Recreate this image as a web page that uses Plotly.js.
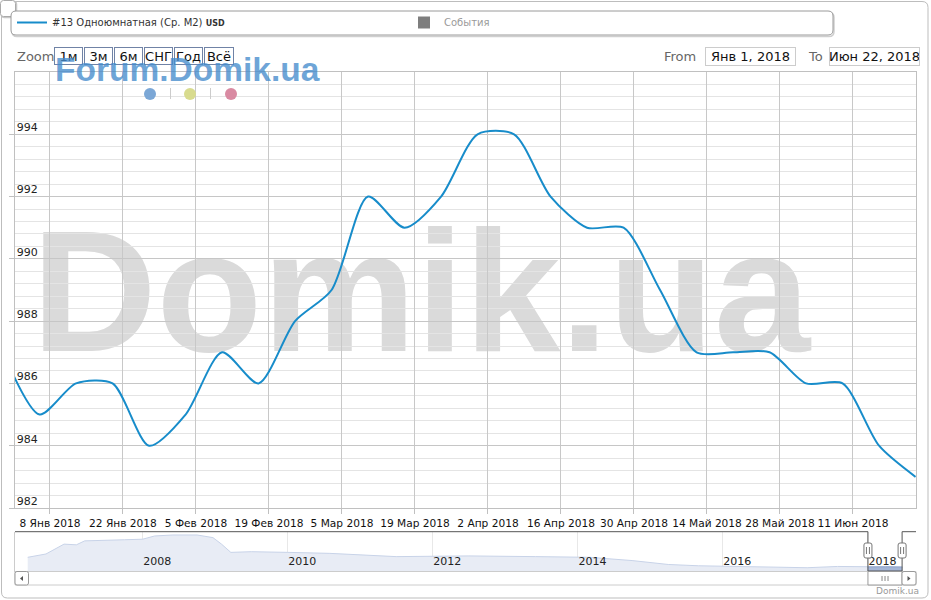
<!DOCTYPE html>
<html>
<head>
<meta charset="utf-8">
<script src="https://cdn.plot.ly/plotly-3.0.1.min.js"></script>
<style>html,body{margin:0;padding:0;background:#fff}#chart{width:931px;height:600px}</style>
</head>
<body>
<div id="chart"></div>
<script>
// ---------- data ----------
const seriesName = '#13 Одноюмнатная (Ср. М2) <span style="font-size:8px"><b>USD</b></span>';
const eventsName = 'События';
const weekDates = ['2017-12-30','2018-01-06','2018-01-13','2018-01-20','2018-01-27','2018-02-03','2018-02-10','2018-02-17','2018-02-24','2018-03-03','2018-03-10','2018-03-17','2018-03-24','2018-03-31','2018-04-07','2018-04-14','2018-04-21','2018-04-28','2018-05-05','2018-05-12','2018-05-19','2018-05-26','2018-06-02','2018-06-09','2018-06-16','2018-06-23'];
const weekValues = [987,985,986,986,984,985,987,986,988,989,992,991,992,994,994,992,991,991,989,987,987,987,986,986,984,983];
const historyDates = ['2006-06-01','2006-09-01','2006-12-01','2007-02-01','2007-03-15','2007-06-01','2007-10-01','2008-01-01','2008-03-01','2008-06-01','2008-10-01','2008-12-20','2009-02-01','2009-03-20','2009-07-01','2010-01-01','2010-08-01','2011-07-01','2012-01-01','2012-07-01','2013-06-01','2014-03-01','2014-10-01','2015-04-01','2015-09-01','2016-07-01','2017-03-01','2017-08-01'];
const historyValues = [1373,1506,1900,1872,2030,2057,2075,2097,2226,2266,2266,2160,1900,1570,1597,1570,1530,1400,1428,1428,1400,1373,1243,1086,1034,979,956,1007];
const xTickDates = ['2018-01-08','2018-01-22','2018-02-05','2018-02-19','2018-03-05','2018-03-19','2018-04-02','2018-04-16','2018-04-30','2018-05-14','2018-05-28','2018-06-11'];
const xTickLabels = ['8 Янв 2018','22 Янв 2018','5 Фев 2018','19 Фев 2018','5 Мар 2018','19 Мар 2018','2 Апр 2018','16 Апр 2018','30 Апр 2018','14 Май 2018','28 Май 2018','11 Июн 2018'];
const yTickValues = [982,984,986,988,990,992,994];
const zoomButtons = ['1м','3м','6м','СНГ','Год','Всё'];
const fromText = 'Янв 1, 2018';
const toText = 'Июн 22, 2018';
const selStart = '2018-01-01';
const selEnd = '2018-06-22';
const mainRange = ['2018-01-01 07:00','2018-06-23 02:00'];
const navRange = ['2006-03-29','2018-08-31'];

// ---------- helpers (pixel -> paper) ----------
const W = 931, H = 600;
const px = x => x / W;
const py = y => 1 - y / H;
function rrect(x0, y0, x1, y1, r) {
  const X = px, Y = py;
  return `M${X(x0+r)},${Y(y0)} L${X(x1-r)},${Y(y0)} Q${X(x1)},${Y(y0)} ${X(x1)},${Y(y0+r)} ` +
         `L${X(x1)},${Y(y1-r)} Q${X(x1)},${Y(y1)} ${X(x1-r)},${Y(y1)} L${X(x0+r)},${Y(y1)} ` +
         `Q${X(x0)},${Y(y1)} ${X(x0)},${Y(y1-r)} L${X(x0)},${Y(y0+r)} Q${X(x0)},${Y(y0)} ${X(x0+r)},${Y(y0)} Z`;
}

const FONT = 'DejaVu Sans';
const BLUE = '#178cca';

// navigator data
const navX = historyDates.concat(weekDates);
const navY = historyValues.concat(weekValues);
const navMin = Math.min(...navY), navMax = Math.max(...navY);
const navPad = 0.1 * (navMax - navMin);

const traces = [
  {x: weekDates, y: weekValues, name: seriesName, type: 'scatter', mode: 'lines',
   line: {color: BLUE, width: 2, shape: 'spline', smoothing: 0.75}, xaxis: 'x', yaxis: 'y', hoverinfo: 'skip'},
  {x: [null], y: [null], name: eventsName, type: 'scatter', mode: 'markers', visible: 'legendonly',
   marker: {symbol: 'square', size: 12, color: '#000'}, xaxis: 'x', yaxis: 'y'},
  {x: navX, y: navY, type: 'scatter', mode: 'lines', fill: 'tozeroy', fillcolor: '#e8ecf5',
   line: {color: '#c8d3e8', width: 1}, xaxis: 'x2', yaxis: 'y2', showlegend: false, hoverinfo: 'skip'},
  {x: weekDates, y: weekValues, type: 'scatter', mode: 'lines', fill: 'tozeroy', fillcolor: '#a5b6d7',
   line: {color: '#8ea3cc', width: 1}, xaxis: 'x2', yaxis: 'y2', showlegend: false, hoverinfo: 'skip'}
];

const shapes = [];
// outer border
shapes.push({type: 'path', xref: 'paper', yref: 'paper', path: rrect(1.5, 1.5, 928, 598, 6), line: {color: '#bdbdbd', width: 1}, layer: 'below'});
// top-left tab
shapes.push({type: 'path', xref: 'paper', yref: 'paper', path: rrect(1.5, 1.5, 16.5, 17.5, 3), line: {color: '#c8c8c8', width: 1.5}, fillcolor: '#fff'});
shapes.push({type: 'path', xref: 'paper', yref: 'paper', path: rrect(0.5, 0.5, 15.5, 16.5, 3), line: {color: '#aaa', width: 1}, fillcolor: '#fff'});
// legend box with shadow
shapes.push({type: 'path', xref: 'paper', yref: 'paper', path: rrect(12, 12.5, 834, 36.5, 5), line: {color: '#cfcfcf', width: 1.5}, fillcolor: 'rgba(0,0,0,0)'});
shapes.push({type: 'path', xref: 'paper', yref: 'paper', path: rrect(11, 11, 833, 35, 5), line: {color: '#9a9a9a', width: 1}, fillcolor: '#fff'});
// big watermark (below grid)
shapes.push({type: 'rect', xref: 'paper', yref: 'paper', x0: px(26), x1: px(816), y0: py(355), y1: py(195), layer: 'below',
  line: {width: 0}, fillcolor: 'rgba(0,0,0,0)',
  label: {text: '<b>Domik.ua</b>', textposition: 'middle center', padding: 0,
          font: {family: 'Liberation Sans', size: 173, color: '#dadada'}}});
// dots under Forum watermark
[[150, '#7ba7d6'], [190, '#d8db8e'], [231, '#d98aa2']].forEach(([cx, c]) => {
  shapes.push({type: 'circle', xref: 'paper', yref: 'paper', x0: px(cx - 6), x1: px(cx + 6), y0: py(100), y1: py(88), line: {width: 0}, fillcolor: c});
});
[170.5, 210.5].forEach(sx => shapes.push({type: 'line', xref: 'paper', yref: 'paper', x0: px(sx), x1: px(sx), y0: py(88), y1: py(99), line: {color: '#cccccc', width: 1}}));
// navigator outline
const navTop = py(531.7), navBot = py(571);
const outline = {color: '#555', width: 1};
shapes.push({type: 'line', xref: 'x2', yref: 'paper', x0: navRange[0], x1: selStart, y0: navTop, y1: navTop, line: outline});
shapes.push({type: 'line', xref: 'x2', yref: 'paper', x0: selStart, x1: selStart, y0: navTop, y1: navBot, line: outline});
shapes.push({type: 'line', xref: 'x2', yref: 'paper', x0: selStart, x1: selEnd, y0: navBot, y1: navBot, line: outline});
shapes.push({type: 'line', xref: 'x2', yref: 'paper', x0: selEnd, x1: selEnd, y0: navTop, y1: navBot, line: outline});
shapes.push({type: 'line', xref: 'x2', yref: 'paper', x0: selEnd, x1: navRange[1], y0: navTop, y1: navTop, line: outline});
// scrollbar track
shapes.push({type: 'rect', xref: 'paper', yref: 'paper', x0: px(15), x1: px(916), y0: py(585), y1: py(571.5), line: {color: '#cccccc', width: 1}, fillcolor: 'rgba(0,0,0,0)'});
// scrollbar thumb
shapes.push({type: 'rect', xref: 'x2', yref: 'paper', x0: selStart, x1: selEnd, y0: py(585), y1: py(571.5), line: {color: '#999', width: 1}, fillcolor: '#fff'});
const midMs = (new Date(selStart).getTime() + new Date(selEnd).getTime()) / 2;
const midDate = new Date(midMs).toISOString().slice(0, 10);
shapes.push({type: 'path', xref: 'x2', xsizemode: 'pixel', xanchor: midDate, yref: 'paper',
  path: `M-3,${py(576)} L-3,${py(581)} M0,${py(576)} L0,${py(581)} M3,${py(576)} L3,${py(581)}`, line: {color: '#888', width: 1}});
// scrollbar buttons
shapes.push({type: 'path', xref: 'paper', yref: 'paper', path: rrect(15, 571.5, 28.5, 585, 2), line: {color: '#999', width: 1}, fillcolor: '#fff'});
shapes.push({type: 'path', xref: 'paper', yref: 'paper', path: `M${px(23)},${py(576)} L${px(20)},${py(578.5)} L${px(23)},${py(581)} Z`, line: {width: 0}, fillcolor: '#555'});
shapes.push({type: 'path', xref: 'paper', yref: 'paper', path: rrect(902, 571.5, 916, 585, 2), line: {color: '#999', width: 1}, fillcolor: '#fff'});
shapes.push({type: 'path', xref: 'paper', yref: 'paper', path: `M${px(907.5)},${py(576)} L${px(910.5)},${py(578.5)} L${px(907.5)},${py(581)} Z`, line: {width: 0}, fillcolor: '#555'});
// navigator handles
[selStart, selEnd].forEach(d => {
  const t = py(543), b = py(558), r1 = py(545), r2 = py(556);
  shapes.push({type: 'path', xref: 'x2', xsizemode: 'pixel', xanchor: d, yref: 'paper',
    path: `M-2,${t} L2,${t} Q4,${t} 4,${r1} L4,${r2} Q4,${b} 2,${b} L-2,${b} Q-4,${b} -4,${r2} L-4,${r1} Q-4,${t} -2,${t} Z`,
    line: {color: '#777', width: 1}, fillcolor: '#fff'});
  shapes.push({type: 'path', xref: 'x2', xsizemode: 'pixel', xanchor: d, yref: 'paper',
    path: `M-1.5,${py(547)} L-1.5,${py(554)} M1.5,${py(547)} L1.5,${py(554)}`,
    line: {color: '#777', width: 1}});
});

const annotations = [];
annotations.push({text: 'Zoom', xref: 'paper', yref: 'paper', x: px(15), y: py(57), xanchor: 'left', yanchor: 'middle', showarrow: false, font: {size: 13, color: '#666'}});
zoomButtons.forEach((b, i) => {
  const w = i === zoomButtons.length - 1 ? 31 : 30;
  annotations.push({text: b, xref: 'paper', yref: 'paper', x: px(53 + 30 * i + w / 2), y: py(56.5), xanchor: 'center', yanchor: 'middle',
    showarrow: false, width: w - 3, height: 16, borderpad: 0, borderwidth: 1, bordercolor: '#7083a6', bgcolor: 'rgba(255,255,255,0)',
    font: {size: 13, color: '#111'}});
});
annotations.push({text: 'From', xref: 'paper', yref: 'paper', x: px(698), y: py(57), xanchor: 'right', yanchor: 'middle', showarrow: false, font: {size: 13, color: '#666'}});
annotations.push({text: fromText, xref: 'paper', yref: 'paper', x: px(750.5), y: py(56.5), xanchor: 'center', yanchor: 'middle', showarrow: false,
  width: 89, height: 17, borderpad: 0, borderwidth: 1, bordercolor: '#cccccc', font: {size: 13, color: '#111'}});
annotations.push({text: 'To', xref: 'paper', yref: 'paper', x: px(806), y: py(57), xanchor: 'left', yanchor: 'middle', showarrow: false, font: {size: 13, color: '#666'}});
annotations.push({text: toText, xref: 'paper', yref: 'paper', x: px(874.5), y: py(56.5), xanchor: 'center', yanchor: 'middle', showarrow: false,
  width: 89, height: 17, borderpad: 0, borderwidth: 1, bordercolor: '#cccccc', font: {size: 13, color: '#111'}});
annotations.push({text: '<b>Forum.Domik.ua</b>', xref: 'paper', yref: 'paper', x: px(53), y: py(69), xanchor: 'left', yanchor: 'middle', showarrow: false,
  font: {family: 'Liberation Sans', size: 33.5, color: 'rgba(70,140,205,0.78)'}});
annotations.push({text: 'Domik.ua', xref: 'paper', yref: 'paper', x: px(921), y: py(591), xanchor: 'right', yanchor: 'middle', showarrow: false, font: {size: 9, color: '#999'}});

const layout = {
  width: W, height: H,
  margin: {l: 0, r: 0, t: 0, b: 0, pad: 0},
  paper_bgcolor: '#fff', plot_bgcolor: 'rgba(0,0,0,0)',
  font: {family: FONT, size: 11, color: '#222'},
  showlegend: true,
  legend: {orientation: 'h', x: px(12), y: py(8), xanchor: 'left', yanchor: 'top', bgcolor: 'rgba(0,0,0,0)', borderwidth: 0,
    font: {size: 10, color: '#333'}, itemwidth: 30, entrywidth: 347, entrywidthmode: 'pixels', itemclick: false, itemdoubleclick: false},
  xaxis: {type: 'date', domain: [px(15), px(916)], range: mainRange, anchor: 'y',
    tickmode: 'array', tickvals: xTickDates, ticktext: xTickLabels, tickangle: 0, ticks: 'outside', ticklen: 5, tickcolor: '#c0c0c0',
    showgrid: true, gridcolor: '#c8c8c8', gridwidth: 1, showline: true, linecolor: '#c0c0c0', mirror: true, zeroline: false,
    tickfont: {size: 10.6, color: '#111'}, fixedrange: true},
  yaxis: {domain: [py(508), py(72)], range: [982, 996], anchor: 'x',
    tickmode: 'array', tickvals: yTickValues, ticks: 'outside', ticklen: 5, tickcolor: '#c0c0c0',
    ticklabelposition: 'inside', ticklabelshift: -7, ticklabelstandoff: 1,
    showgrid: true, gridcolor: '#c6c6c6', minor: {tickmode: 'linear', tick0: 982, dtick: 0.4, showgrid: true, gridcolor: '#e4e4e4', ticks: ''},
    showline: true, linecolor: '#c0c0c0', mirror: true, zeroline: false, tickfont: {size: 11, color: '#222'}, fixedrange: true},
  xaxis2: {type: 'date', domain: [px(15), px(916)], range: navRange, anchor: 'y2',
    tickmode: 'linear', tick0: '2008-01-01', dtick: 'M24', tickformat: '%Y', ticklabelposition: 'inside right', ticks: '',
    showgrid: true, gridcolor: '#e8e8e8', showline: true, linecolor: '#cccccc', zeroline: false,
    tickfont: {size: 11, color: '#222'}, fixedrange: true},
  yaxis2: {domain: [py(571), py(531.7)], range: [navMin - navPad, navMax + navPad], anchor: 'x2',
    showgrid: false, showticklabels: false, ticks: '', zeroline: false, showline: true, linecolor: '#cccccc', fixedrange: true},
  shapes: shapes,
  annotations: annotations
};

Plotly.newPlot('chart', traces, layout, {displayModeBar: false, responsive: false});
</script>
</body>
</html>
